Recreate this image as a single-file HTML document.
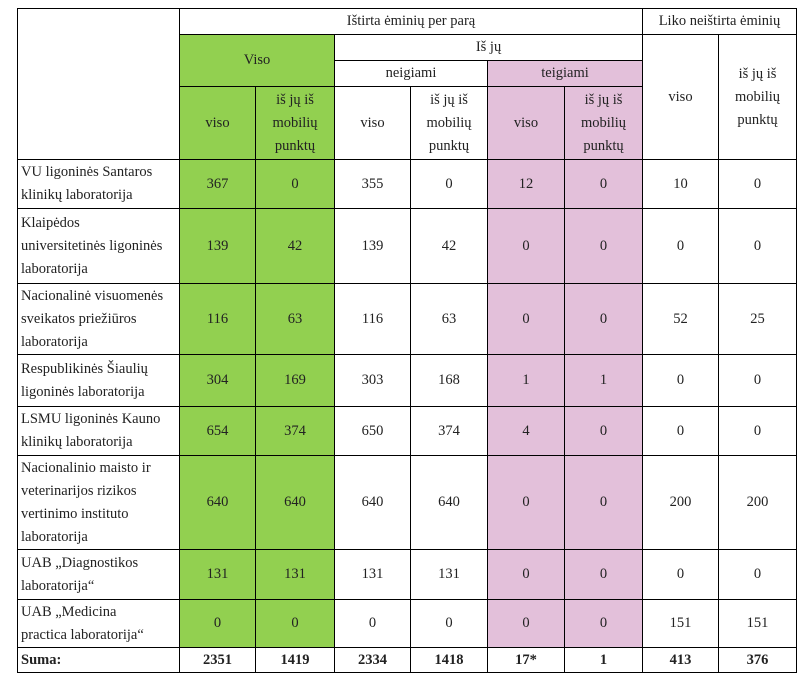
<!DOCTYPE html>
<html><head><meta charset="utf-8">
<style>
body{margin:0;background:#fff;width:810px;height:687px;position:relative;overflow:hidden;font-family:"Liberation Serif",serif;font-size:14.5px;color:#222}
.c{position:absolute;box-sizing:border-box;border:1px solid #000;display:flex;align-items:center;justify-content:center;text-align:center;line-height:23px;white-space:nowrap}
.l{justify-content:flex-start;text-align:left;padding-left:3px}
.g{background:#92d050}
.p{background:#e3c0da}
.b{font-weight:bold}
</style></head><body>
<!-- header -->
<div class="c" style="left:17px;top:8px;width:163px;height:152px"></div>
<div class="c" style="left:179px;top:8px;width:464px;height:27px">Ištirta ėminių per parą</div>
<div class="c" style="left:642px;top:8px;width:155px;height:27px">Liko neištirta ėminių</div>
<div class="c g" style="left:179px;top:34px;width:156px;height:53px">Viso</div>
<div class="c" style="left:334px;top:34px;width:309px;height:27px">Iš jų</div>
<div class="c" style="left:334px;top:60px;width:154px;height:27px">neigiami</div>
<div class="c p" style="left:487px;top:60px;width:156px;height:27px">teigiami</div>
<div class="c" style="left:642px;top:34px;width:77px;height:126px">viso</div>
<div class="c" style="left:718px;top:34px;width:79px;height:126px">iš jų iš<br>mobilių<br>punktų</div>
<div class="c g" style="left:179px;top:86px;width:77px;height:74px">viso</div>
<div class="c g" style="left:255px;top:86px;width:80px;height:74px">iš jų iš<br>mobilių<br>punktų</div>
<div class="c" style="left:334px;top:86px;width:77px;height:74px">viso</div>
<div class="c" style="left:410px;top:86px;width:78px;height:74px">iš jų iš<br>mobilių<br>punktų</div>
<div class="c p" style="left:487px;top:86px;width:78px;height:74px">viso</div>
<div class="c p" style="left:564px;top:86px;width:79px;height:74px">iš jų iš<br>mobilių<br>punktų</div>

<!-- row 1: 159-208 -->
<div class="c l" style="left:17px;top:159px;width:163px;height:50px">VU ligoninės Santaros<br>klinikų laboratorija</div>
<div class="c g" style="left:179px;top:159px;width:77px;height:50px">367</div>
<div class="c g" style="left:255px;top:159px;width:80px;height:50px">0</div>
<div class="c" style="left:334px;top:159px;width:77px;height:50px">355</div>
<div class="c" style="left:410px;top:159px;width:78px;height:50px">0</div>
<div class="c p" style="left:487px;top:159px;width:78px;height:50px">12</div>
<div class="c p" style="left:564px;top:159px;width:79px;height:50px">0</div>
<div class="c" style="left:642px;top:159px;width:77px;height:50px">10</div>
<div class="c" style="left:718px;top:159px;width:79px;height:50px">0</div>

<!-- row 2: 208-283 -->
<div class="c l" style="left:17px;top:208px;width:163px;height:76px">Klaipėdos<br>universitetinės ligoninės<br>laboratorija</div>
<div class="c g" style="left:179px;top:208px;width:77px;height:76px">139</div>
<div class="c g" style="left:255px;top:208px;width:80px;height:76px">42</div>
<div class="c" style="left:334px;top:208px;width:77px;height:76px">139</div>
<div class="c" style="left:410px;top:208px;width:78px;height:76px">42</div>
<div class="c p" style="left:487px;top:208px;width:78px;height:76px">0</div>
<div class="c p" style="left:564px;top:208px;width:79px;height:76px">0</div>
<div class="c" style="left:642px;top:208px;width:77px;height:76px">0</div>
<div class="c" style="left:718px;top:208px;width:79px;height:76px">0</div>

<!-- row 3: 283-354 -->
<div class="c l" style="left:17px;top:283px;width:163px;height:72px">Nacionalinė visuomenės<br>sveikatos priežiūros<br>laboratorija</div>
<div class="c g" style="left:179px;top:283px;width:77px;height:72px">116</div>
<div class="c g" style="left:255px;top:283px;width:80px;height:72px">63</div>
<div class="c" style="left:334px;top:283px;width:77px;height:72px">116</div>
<div class="c" style="left:410px;top:283px;width:78px;height:72px">63</div>
<div class="c p" style="left:487px;top:283px;width:78px;height:72px">0</div>
<div class="c p" style="left:564px;top:283px;width:79px;height:72px">0</div>
<div class="c" style="left:642px;top:283px;width:77px;height:72px">52</div>
<div class="c" style="left:718px;top:283px;width:79px;height:72px">25</div>

<!-- row 4: 354-406 -->
<div class="c l" style="left:17px;top:354px;width:163px;height:53px">Respublikinės Šiaulių<br>ligoninės laboratorija</div>
<div class="c g" style="left:179px;top:354px;width:77px;height:53px">304</div>
<div class="c g" style="left:255px;top:354px;width:80px;height:53px">169</div>
<div class="c" style="left:334px;top:354px;width:77px;height:53px">303</div>
<div class="c" style="left:410px;top:354px;width:78px;height:53px">168</div>
<div class="c p" style="left:487px;top:354px;width:78px;height:53px">1</div>
<div class="c p" style="left:564px;top:354px;width:79px;height:53px">1</div>
<div class="c" style="left:642px;top:354px;width:77px;height:53px">0</div>
<div class="c" style="left:718px;top:354px;width:79px;height:53px">0</div>

<!-- row 5: 406-455 -->
<div class="c l" style="left:17px;top:406px;width:163px;height:50px">LSMU ligoninės Kauno<br>klinikų laboratorija</div>
<div class="c g" style="left:179px;top:406px;width:77px;height:50px">654</div>
<div class="c g" style="left:255px;top:406px;width:80px;height:50px">374</div>
<div class="c" style="left:334px;top:406px;width:77px;height:50px">650</div>
<div class="c" style="left:410px;top:406px;width:78px;height:50px">374</div>
<div class="c p" style="left:487px;top:406px;width:78px;height:50px">4</div>
<div class="c p" style="left:564px;top:406px;width:79px;height:50px">0</div>
<div class="c" style="left:642px;top:406px;width:77px;height:50px">0</div>
<div class="c" style="left:718px;top:406px;width:79px;height:50px">0</div>

<!-- row 6: 455-549 -->
<div class="c l" style="left:17px;top:455px;width:163px;height:95px">Nacionalinio maisto ir<br>veterinarijos rizikos<br>vertinimo instituto<br>laboratorija</div>
<div class="c g" style="left:179px;top:455px;width:77px;height:95px">640</div>
<div class="c g" style="left:255px;top:455px;width:80px;height:95px">640</div>
<div class="c" style="left:334px;top:455px;width:77px;height:95px">640</div>
<div class="c" style="left:410px;top:455px;width:78px;height:95px">640</div>
<div class="c p" style="left:487px;top:455px;width:78px;height:95px">0</div>
<div class="c p" style="left:564px;top:455px;width:79px;height:95px">0</div>
<div class="c" style="left:642px;top:455px;width:77px;height:95px">200</div>
<div class="c" style="left:718px;top:455px;width:79px;height:95px">200</div>

<!-- row 7: 549-599 -->
<div class="c l" style="left:17px;top:549px;width:163px;height:51px">UAB „Diagnostikos<br>laboratorija“</div>
<div class="c g" style="left:179px;top:549px;width:77px;height:51px">131</div>
<div class="c g" style="left:255px;top:549px;width:80px;height:51px">131</div>
<div class="c" style="left:334px;top:549px;width:77px;height:51px">131</div>
<div class="c" style="left:410px;top:549px;width:78px;height:51px">131</div>
<div class="c p" style="left:487px;top:549px;width:78px;height:51px">0</div>
<div class="c p" style="left:564px;top:549px;width:79px;height:51px">0</div>
<div class="c" style="left:642px;top:549px;width:77px;height:51px">0</div>
<div class="c" style="left:718px;top:549px;width:79px;height:51px">0</div>

<!-- row 8: 599-647 -->
<div class="c l" style="left:17px;top:599px;width:163px;height:49px">UAB „Medicina<br>practica laboratorija“</div>
<div class="c g" style="left:179px;top:599px;width:77px;height:49px">0</div>
<div class="c g" style="left:255px;top:599px;width:80px;height:49px">0</div>
<div class="c" style="left:334px;top:599px;width:77px;height:49px">0</div>
<div class="c" style="left:410px;top:599px;width:78px;height:49px">0</div>
<div class="c p" style="left:487px;top:599px;width:78px;height:49px">0</div>
<div class="c p" style="left:564px;top:599px;width:79px;height:49px">0</div>
<div class="c" style="left:642px;top:599px;width:77px;height:49px">151</div>
<div class="c" style="left:718px;top:599px;width:79px;height:49px">151</div>

<!-- sum: 647-672 -->
<div class="c l b" style="left:17px;top:647px;width:163px;height:26px">Suma:</div>
<div class="c b" style="left:179px;top:647px;width:77px;height:26px">2351</div>
<div class="c b" style="left:255px;top:647px;width:80px;height:26px">1419</div>
<div class="c b" style="left:334px;top:647px;width:77px;height:26px">2334</div>
<div class="c b" style="left:410px;top:647px;width:78px;height:26px">1418</div>
<div class="c b" style="left:487px;top:647px;width:78px;height:26px">17*</div>
<div class="c b" style="left:564px;top:647px;width:79px;height:26px">1</div>
<div class="c b" style="left:642px;top:647px;width:77px;height:26px">413</div>
<div class="c b" style="left:718px;top:647px;width:79px;height:26px">376</div>
</body></html>
